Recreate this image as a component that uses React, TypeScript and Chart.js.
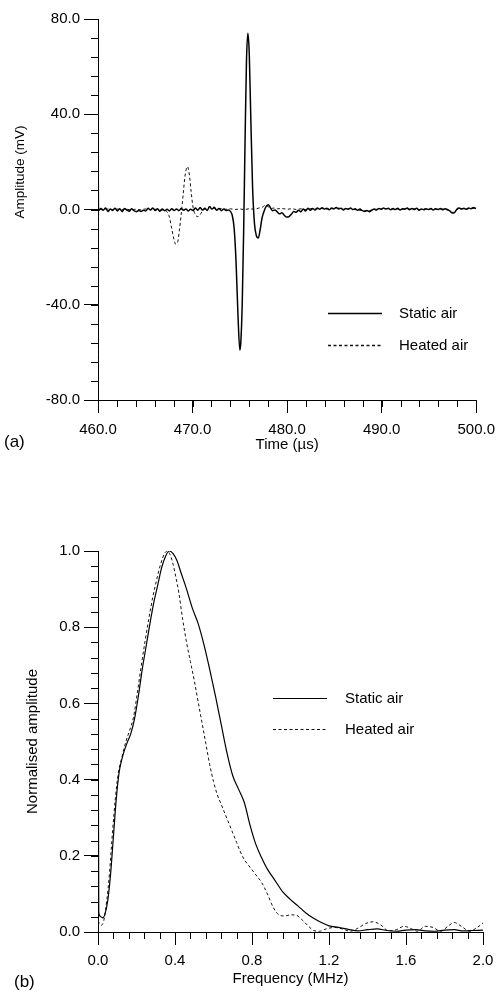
import React, { useEffect, useRef } from "react";
import { Chart, registerables } from "chart.js";

Chart.register(...registerables);

const FONT = '"Liberation Sans", Arial, Helvetica, sans-serif';

// ---------- Panel (a): time signals ----------
const timeTicks = [460, 470, 480, 490, 500];
const ampTicks = [-80, -40, 0, 40, 80];

const staticTime = [
  460.0, 460.05, 460.3, 460.55, 460.8, 461.05, 461.3, 461.55, 461.8, 462.05,
  462.3, 462.55, 462.8, 463.05, 463.3, 463.55, 463.8, 464.05, 464.3, 464.55,
  464.8, 465.05, 465.3, 465.55, 465.8, 466.05, 466.3, 466.55, 466.8, 467.05,
  467.3, 467.55, 467.8, 468.05, 468.3, 468.55, 468.8, 469.05, 469.3, 469.55,
  469.8, 470.05, 470.3, 470.55, 470.8, 471.05, 471.3, 471.55, 471.8, 472.05,
  472.3, 472.55, 472.8, 473.05, 473.3, 473.55, 473.8, 474.0, 474.2, 474.4,
  474.6, 474.8, 475.0, 475.1, 475.25, 475.4, 475.55, 475.7, 475.85, 476.0,
  476.15, 476.35, 476.55, 476.75, 476.95, 477.15, 477.35, 477.6, 477.8, 478.0,
  478.2, 478.45, 478.7, 478.95, 479.2, 479.45, 479.7, 479.95, 480.2, 480.45,
  480.7, 480.95, 481.2, 481.45, 481.7, 481.95, 482.2, 482.45, 482.7, 482.95,
  483.2, 483.45, 483.7, 483.95, 484.2, 484.45, 484.7, 484.95, 485.2, 485.45,
  485.7, 485.95, 486.2, 486.45, 486.7, 486.95, 487.2, 487.45, 487.7, 487.95,
  488.2, 488.45, 488.7, 488.95, 489.2, 489.45, 489.7, 489.95, 490.2, 490.45,
  490.7, 490.95, 491.2, 491.45, 491.7, 491.95, 492.2, 492.45, 492.7, 492.95,
  493.2, 493.45, 493.7, 493.95, 494.2, 494.45, 494.7, 494.95, 495.2, 495.45,
  495.7, 495.95, 496.2, 496.45, 496.7, 496.95, 497.2, 497.45, 497.7, 497.95,
  498.2, 498.45, 498.7, 498.95, 499.2, 499.45, 499.7, 500.0,
];
const staticAmp = [
  52, -0.5, 0.4, -0.3, 0.6, -0.8, 0.2, -0.4, 0.5, -0.6,
  0.3, -0.9, 0.4, -0.2, -0.7, 0.3, -0.5, -0.9, -0.4, -0.8,
  -0.3, -0.6, 0.5, -0.2, 0.6, -0.4, 0.3, -0.7, 0.2, -0.5,
  0.1, -0.6, 0.3, -0.4, 0.2, -0.5, 0.4, -0.3, 0.2, -0.6,
  0.1, -0.4, 0.6, -0.3, 0.8, -0.2, 0.5, -0.4, 1.2, 0.2,
  0.9, -0.3, 0.4, -0.5, 0.2, -0.4, -0.2, -0.8, -2.5, -8,
  -22, -44, -59, -56, -40, -10, 28, 62, 74, 65,
  40, 9, -6, -11, -12, -8.5, -3.5, -0.3, 1.4, 2.0,
  1.0, -0.5, -0.2, -1.0, -1.8, -1.4, -2.4, -3.2, -3.0, -2.0,
  -0.8, -1.2, -0.3, -1.0, 0.2, -0.6, 0.5, -0.3, 0.4, -0.2,
  0.6, 0.1, 0.7, 0.2, 0.5, -0.1, 0.6, 0.3, 0.8, 0.2,
  0.5, -0.2, 0.4, 0.1, 0.6, 0.0, 0.3, -0.3, 0.2, -0.5,
  -0.8, -0.4, -0.9, -0.3, 0.2, -0.2, 0.4, 0.1, 0.6, 0.2,
  0.5, -0.1, 0.4, 0.0, 0.5, -0.2, 0.3, 0.1, 0.6, -0.1,
  0.4, 0.0, 0.5, -0.3, 0.2, -0.1, 0.3, 0.0, 0.4, -0.2,
  0.3, 0.0, 0.4, -0.1, 0.3, 0.0, -0.6, -1.5, -1.3, 0.1,
  0.6, 0.2, 0.5, 0.1, 0.6, 0.3, 0.8, 0.4,
];

const heatedTime = [
  460.0, 460.05, 460.5, 461.0, 461.5, 462.0, 462.5, 463.0, 463.5, 464.0,
  464.5, 465.0, 465.5, 466.0, 466.5, 467.0, 467.25, 467.5, 467.75, 468.0,
  468.2, 468.4, 468.6, 468.8, 469.0, 469.2, 469.45, 469.65, 469.85, 470.05,
  470.3, 470.55, 470.8, 471.05, 471.3, 471.6, 471.9, 472.2, 472.5, 473.0,
  473.5, 474.0, 474.5, 475.0, 475.5, 476.0, 476.5, 477.0, 477.4, 477.7,
  478.0, 478.3, 478.6, 479.0, 479.5, 480.0, 480.5, 481.0, 481.5, 482.0,
  482.5, 483.0, 483.5, 484.0, 484.5, 485.0, 485.5, 486.0, 486.5, 487.0,
  487.5, 488.0, 488.5, 489.0, 489.5, 490.0, 490.5, 491.0, 491.5, 492.0,
  492.5, 493.0, 493.5, 494.0, 494.5, 495.0, 495.5, 496.0, 496.5, 497.0,
  497.5, 498.0, 498.5, 499.0, 499.5, 500.0,
];
const heatedAmp = [
  -80, 0.2, -0.1, 0.2, 0.0, 0.2, -0.1, 0.1, -0.2, 0.1,
  -0.1, 0.2, 0.0, 0.1, -0.2, -0.3, -0.8, -2.5, -7, -12,
  -14.5, -14, -9, -2, 6, 14, 18, 15, 7.5, 1,
  -2.2, -3, -2.2, -0.6, 0.2, 0.8, 1.2, 0.6, 0.2, 0.4,
  0.1, 0.3, 0.0, 0.2, 0.0, 0.3, 0.1, 0.6, 1.0, 1.8,
  1.2, 0.4, 0.6, 0.3, 0.4, 0.1, 0.3, 0.0, 0.3, -0.1,
  0.4, 0.2, 0.5, 0.1, 0.4, 0.2, 0.6, 0.1, 0.4, 0.0,
  -0.2, -0.5, -0.6, -0.2, 0.1, 0.3, 0.4, 0.1, 0.3, 0.0,
  0.4, 0.2, 0.3, 0.0, 0.2, 0.1, 0.3, 0.1, 0.2, -0.3,
  -1.2, 0.0, 0.3, 0.2, 0.5, 0.3,
];

// ---------- Panel (b): normalised spectra ----------
const freqTicks = [0, 0.4, 0.8, 1.2, 1.6, 2.0];
const normTicks = [0, 0.2, 0.4, 0.6, 0.8, 1.0];

const staticFreq = [
  0, 0.004, 0.015, 0.025, 0.035, 0.05, 0.065, 0.08, 0.095, 0.11,
  0.13, 0.15, 0.17, 0.19, 0.21, 0.23, 0.25, 0.27, 0.29, 0.31,
  0.33, 0.35, 0.37, 0.39, 0.41, 0.43, 0.46, 0.49, 0.52, 0.55,
  0.58, 0.61, 0.64, 0.67, 0.70, 0.73, 0.76, 0.79, 0.82, 0.85,
  0.88, 0.92, 0.96, 1.0, 1.04, 1.08, 1.12, 1.16, 1.2, 1.25,
  1.3, 1.35, 1.4, 1.45, 1.5, 1.55, 1.6, 1.65, 1.7, 1.75,
  1.8, 1.85, 1.9, 1.95, 2.0,
];
const staticSpec = [
  0.8, 0.05, 0.04, 0.037, 0.045, 0.08, 0.15, 0.25, 0.35, 0.42,
  0.465, 0.495, 0.52, 0.56, 0.62, 0.69, 0.75, 0.81, 0.865, 0.91,
  0.955, 0.985, 1.0, 0.993, 0.975, 0.945, 0.9, 0.85, 0.81, 0.755,
  0.69, 0.62, 0.545, 0.47, 0.41, 0.375, 0.34, 0.28, 0.23, 0.195,
  0.165, 0.135, 0.105, 0.085, 0.068, 0.05, 0.036, 0.025, 0.016, 0.012,
  0.007, 0.003, 0.006, 0.008, 0.004, 0.002, 0.005, 0.006, 0.003, 0.002,
  0.005, 0.006, 0.003, 0.004, 0.005,
];

const heatedFreq = [
  0, 0.008, 0.018, 0.03, 0.045, 0.06, 0.075, 0.09, 0.105, 0.125,
  0.145, 0.165, 0.185, 0.205, 0.225, 0.245, 0.265, 0.285, 0.305, 0.325,
  0.345, 0.36, 0.375, 0.39, 0.405, 0.42, 0.44, 0.46, 0.48, 0.5,
  0.52, 0.54, 0.56, 0.58, 0.6, 0.62, 0.64, 0.66, 0.68, 0.70,
  0.72, 0.74, 0.76, 0.79, 0.82, 0.85, 0.88, 0.91, 0.94, 0.97,
  1.0, 1.03, 1.06, 1.09, 1.12, 1.15, 1.19, 1.23, 1.27, 1.31,
  1.35, 1.39, 1.43, 1.47, 1.51, 1.55, 1.59, 1.63, 1.66, 1.7,
  1.74, 1.78, 1.82, 1.85, 1.89, 1.93, 1.97, 2.0,
];
const heatedSpec = [
  0.03, 0.022, 0.018, 0.03, 0.08, 0.157, 0.26, 0.35, 0.415, 0.46,
  0.5, 0.53, 0.565, 0.63, 0.7, 0.765, 0.825, 0.88, 0.925, 0.965,
  0.993, 1.0, 0.99, 0.965, 0.93, 0.89, 0.82, 0.76, 0.71, 0.66,
  0.605, 0.55, 0.495, 0.44, 0.395, 0.36, 0.335, 0.31, 0.285, 0.26,
  0.235, 0.21, 0.19, 0.17, 0.15, 0.13, 0.1, 0.065, 0.045, 0.042,
  0.045, 0.044, 0.032, 0.017, 0.004, 0.002, 0.009, 0.012, 0.008, 0.002,
  0.01, 0.022, 0.027, 0.018, 0.003, 0.006, 0.015, 0.008, 0.002, 0.015,
  0.012, 0.002, 0.016, 0.025, 0.014, 0.002, 0.012, 0.024,
];

const seriesLabels = ["Static air", "Heated air"];

// ---------- helpers ----------
const toPoints = (xs: number[], ys: number[]) => xs.map((x, i) => ({ x, y: ys[i] }));

const minorTicksPlugin = {
  id: "minorTicks",
  afterDraw(chart: any, _args: any, o: any) {
    const { ctx, chartArea } = chart;
    const xs = chart.scales.x;
    const ys = chart.scales.y;
    ctx.save();
    ctx.strokeStyle = "#000";
    ctx.lineWidth = 1;
    ctx.beginPath();
    const nx = Math.round((xs.max - xs.min) / o.xStep);
    for (let i = 0; i <= nx; i++) {
      const px = Math.round(xs.getPixelForValue(xs.min + i * o.xStep)) + 0.5;
      ctx.moveTo(px, chartArea.bottom);
      ctx.lineTo(px, chartArea.bottom + o.len);
    }
    const ny = Math.round((ys.max - ys.min) / o.yStep);
    for (let i = 0; i <= ny; i++) {
      const py = Math.round(ys.getPixelForValue(ys.min + i * o.yStep)) + 0.5;
      ctx.moveTo(chartArea.left, py);
      ctx.lineTo(chartArea.left - o.len, py);
    }
    ctx.stroke();
    ctx.restore();
  },
};

const insetLegendPlugin = {
  id: "insetLegend",
  afterDraw(chart: any, _args: any, o: any) {
    const { ctx } = chart;
    chart.data.datasets.forEach((ds: any, i: number) => {
      const y = o.y + i * o.gap + 0.5;
      ctx.save();
      ctx.strokeStyle = ds.borderColor;
      ctx.lineWidth = o.lineWidth;
      ctx.setLineDash(ds.borderDash || []);
      ctx.beginPath();
      ctx.moveTo(o.x, y);
      ctx.lineTo(o.x + o.len, y);
      ctx.stroke();
      ctx.setLineDash([]);
      ctx.fillStyle = "#000";
      ctx.font = `15px ${FONT}`;
      ctx.textBaseline = "middle";
      ctx.textAlign = "left";
      ctx.fillText(ds.label, o.x + o.len + o.textGap, y);
      ctx.restore();
    });
  },
};

const textPlugin = {
  id: "extraText",
  afterDraw(chart: any, _args: any, o: any) {
    const { ctx } = chart;
    ctx.save();
    ctx.fillStyle = "#000";
    ctx.font = `17px ${FONT}`;
    ctx.textBaseline = "middle";
    ctx.textAlign = "left";
    ctx.fillText(o.panel, o.panelX, o.panelY);
    ctx.font = `${o.yTitleSize}px ${FONT}`;
    ctx.textAlign = "center";
    ctx.translate(o.yTitleX, o.yTitleY);
    ctx.rotate(-Math.PI / 2);
    ctx.fillText(o.yTitle, 0, 0);
    ctx.restore();
  },
};

function makeConfig(p: any) {
  const tickFont = { family: FONT, size: 15 };
  return {
    type: "line",
    data: {
      datasets: [
        {
          label: seriesLabels[0],
          data: toPoints(p.sx, p.sy),
          borderColor: "#000",
          borderWidth: p.staticWidth,
          pointRadius: 0,
          cubicInterpolationMode: "monotone",
          fill: false,
        },
        {
          label: seriesLabels[1],
          data: toPoints(p.hx, p.hy),
          borderColor: "#111",
          borderWidth: 1,
          borderDash: [3, 2.5],
          pointRadius: 0,
          cubicInterpolationMode: "monotone",
          fill: false,
        },
      ],
    },
    options: {
      responsive: false,
      animation: false,
      events: [],
      layout: { padding: { top: p.padTop, right: 20, left: 0, bottom: 0 } },
      scales: {
        x: {
          type: "linear",
          min: p.xMin,
          max: p.xMax,
          afterBuildTicks: (s: any) => {
            s.ticks = p.xTicks.map((v: number) => ({ value: v }));
          },
          afterFit: (s: any) => {
            s.height = p.xAxisHeight;
          },
          ticks: {
            autoSkip: false,
            maxRotation: 0,
            color: "#000",
            font: tickFont,
            padding: p.xTickPad,
            callback: (v: any) => Number(v).toFixed(1),
          },
          grid: { display: true, drawOnChartArea: false, drawTicks: true, tickLength: 13, color: "#000", lineWidth: 1 },
          border: { display: true, color: "#000", width: 1 },
          title: { display: true, text: p.xTitle, color: "#000", font: { family: FONT, size: 15 }, padding: { top: 0, bottom: p.xTitlePad } },
        },
        y: {
          type: "linear",
          min: p.yMin,
          max: p.yMax,
          afterBuildTicks: (s: any) => {
            s.ticks = p.yTicks.map((v: number) => ({ value: v }));
          },
          afterFit: (s: any) => {
            s.width = 98;
          },
          ticks: {
            autoSkip: false,
            color: "#000",
            font: tickFont,
            padding: 4,
            callback: (v: any) => Number(v).toFixed(1),
          },
          grid: { display: true, drawOnChartArea: false, drawTicks: true, tickLength: 14, color: "#000", lineWidth: 1 },
          border: { display: true, color: "#000", width: 1 },
          title: { display: false },
        },
      },
      plugins: {
        legend: { display: false },
        tooltip: { enabled: false },
        minorTicks: { xStep: p.xMinor, yStep: p.yMinor, len: 7 },
        insetLegend: p.legend,
        extraText: p.text,
      },
    },
    plugins: [minorTicksPlugin, insetLegendPlugin, textPlugin],
  } as any;
}

export default function App() {
  const topRef = useRef<HTMLCanvasElement>(null);
  const botRef = useRef<HTMLCanvasElement>(null);

  useEffect(() => {
    document.body.style.margin = "0";
    const top = new Chart(
      topRef.current as HTMLCanvasElement,
      makeConfig({
        sx: staticTime, sy: staticAmp, hx: heatedTime, hy: heatedAmp, staticWidth: 1.5,
        xMin: 460, xMax: 500, xTicks: timeTicks, xMinor: 2,
        yMin: -80, yMax: 80, yTicks: ampTicks, yMinor: 8,
        xTitle: "Time (µs)",
        padTop: 19, xAxisHeight: 70, xTickPad: 8, xTitlePad: 16,
        legend: { x: 328, y: 313, gap: 32, len: 54, textGap: 17, lineWidth: 1.3 },
        text: { panel: "(a)", panelX: 4, panelY: 442, yTitle: "Amplitude (mV)", yTitleSize: 13.5, yTitleX: 20, yTitleY: 172 },
      })
    );
    const bot = new Chart(
      botRef.current as HTMLCanvasElement,
      makeConfig({
        sx: staticFreq, sy: staticSpec, hx: heatedFreq, hy: heatedSpec, staticWidth: 1.2,
        xMin: 0, xMax: 2, xTicks: freqTicks, xMinor: 0.08,
        yMin: 0, yMax: 1, yTicks: normTicks, yMinor: 0.04,
        xTitle: "Frequency (MHz)",
        padTop: 81, xAxisHeight: 60, xTickPad: 7, xTitlePad: 4,
        legend: { x: 273, y: 228, gap: 31, len: 54, textGap: 18, lineWidth: 1 },
        text: { panel: "(b)", panelX: 14, panelY: 512, yTitle: "Normalised amplitude", yTitleSize: 15, yTitleX: 33, yTitleY: 271.5 },
      })
    );
    return () => {
      top.destroy();
      bot.destroy();
    };
  }, []);

  return (
    <div style={{ position: "absolute", left: 0, top: 0, width: 503, height: 992, background: "#fff" }}>
      <canvas ref={topRef} width={503} height={470} style={{ position: "absolute", left: 0, top: 0 }} />
      <canvas ref={botRef} width={503} height={522} style={{ position: "absolute", left: 0, top: 470 }} />
    </div>
  );
}
